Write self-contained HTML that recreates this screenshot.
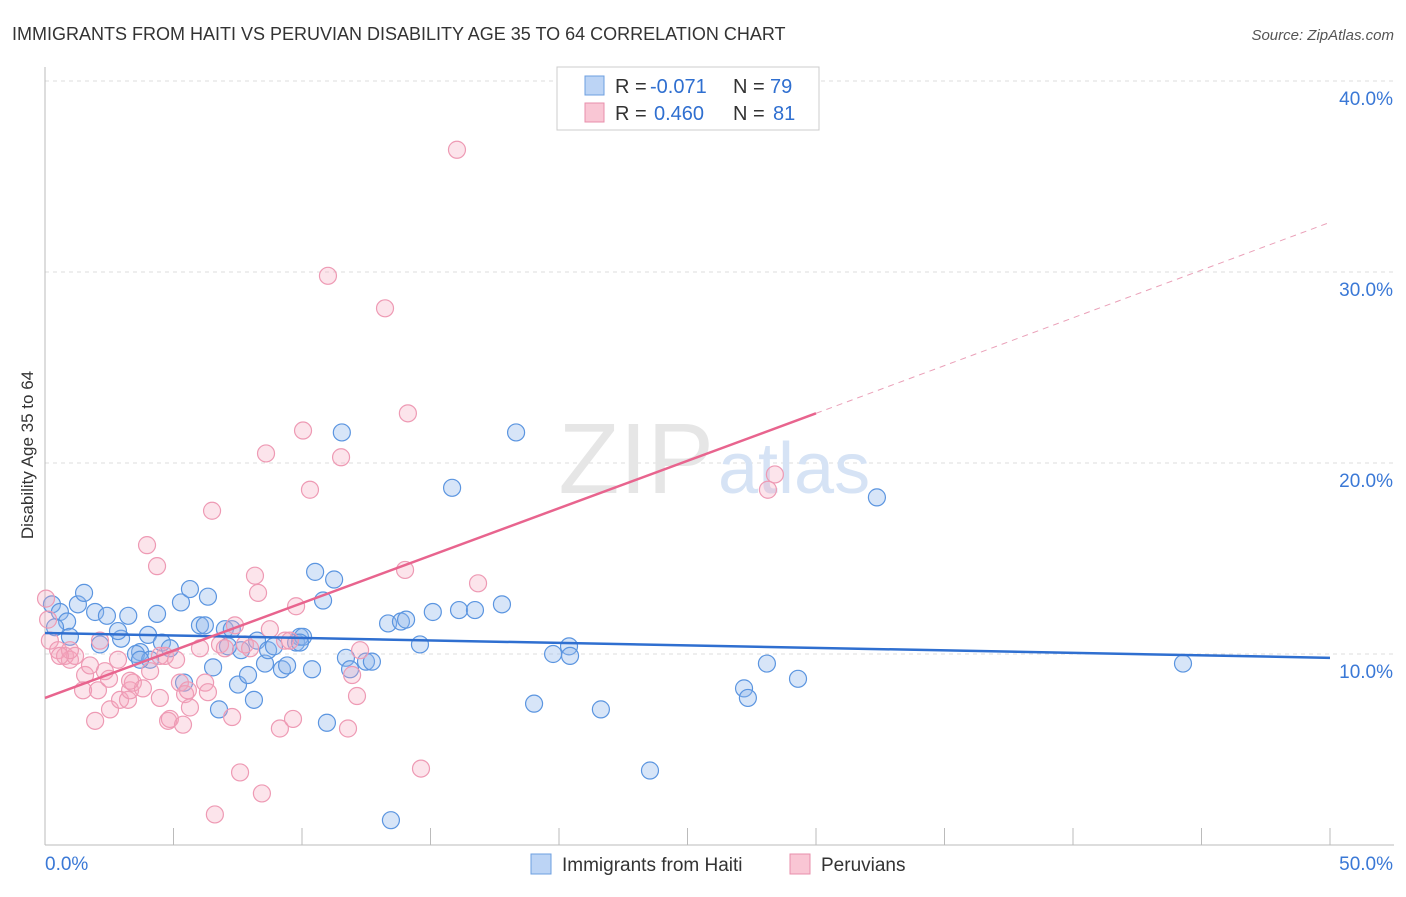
<!DOCTYPE html>
<html><head><meta charset="utf-8"><style>
body{margin:0;background:#fff;font-family:"Liberation Sans",sans-serif;}
svg text{font-family:"Liberation Sans",sans-serif;}
</style></head><body>
<svg id="c" width="1406" height="892" viewBox="0 0 1406 892">
<text x="12" y="40" font-size="18" fill="#333">IMMIGRANTS FROM HAITI VS PERUVIAN DISABILITY AGE 35 TO 64 CORRELATION CHART</text>
<text x="1394" y="40" font-size="15" fill="#555" font-style="italic" text-anchor="end">Source: ZipAtlas.com</text>
<text x="33" y="455" font-size="17" fill="#333" text-anchor="middle" transform="rotate(-90 33 455)">Disability Age 35 to 64</text>
<g id="grid"></g>
<text x="714" y="493" font-size="100" fill="#e6e6e6" text-anchor="end" font-family="Liberation Serif">ZIP</text>
<text x="718" y="493" font-size="72" fill="#d6e3f5">atlas</text>
<g id="pts"></g>
<g id="lines"></g>
<g>
<rect x="557" y="67" width="262" height="63" fill="#fff" stroke="#ccc"/>
<rect x="585" y="76" width="19" height="19" fill="#bcd4f5" stroke="#6d9fe0"/>
<rect x="585" y="103" width="19" height="19" fill="#f9c6d4" stroke="#e88fab"/>
<text x="615" y="93" font-size="20" fill="#333">R =</text>
<text x="650" y="93" font-size="20" fill="#2f6fd0">-0.071</text>
<text x="733" y="93" font-size="20" fill="#333">N =</text>
<text x="770" y="93" font-size="20" fill="#2f6fd0">79</text>
<text x="615" y="120" font-size="20" fill="#333">R =</text>
<text x="654" y="120" font-size="20" fill="#2f6fd0">0.460</text>
<text x="733" y="120" font-size="20" fill="#333">N =</text>
<text x="773" y="120" font-size="20" fill="#2f6fd0">81</text>
</g>
<g>
<rect x="531" y="854" width="20" height="20" fill="#bcd4f5" stroke="#6d9fe0"/>
<text x="562" y="871" font-size="19" fill="#333">Immigrants from Haiti</text>
<rect x="790" y="854" width="20" height="20" fill="#f9c6d4" stroke="#e88fab"/>
<text x="821" y="871" font-size="19" fill="#333">Peruvians</text>
</g>
</svg>
<script>
const xTicks=[0,5,10,15,20,25,30,35,40,45,50];
const yTicks=[10,20,30,40];
const blueX=[0.27,0.58,0.86,0.39,1.28,1.52,0.97,1.95,2.41,2.96,2.84,3.24,3.70,3.54,4.01,4.09,4.36,4.55,4.86,5.29,5.64,6.03,6.22,6.34,6.54,6.77,7.00,7.27,7.51,7.63,7.90,8.13,8.25,8.56,8.68,8.91,9.22,9.42,9.77,9.92,10.04,10.39,10.51,10.82,10.97,11.25,11.55,11.71,11.87,12.49,12.72,13.35,13.85,14.05,14.59,15.09,15.84,16.11,16.73,17.78,18.33,19.03,19.77,20.39,20.43,21.63,23.54,27.20,27.35,28.09,29.30,32.37,44.28,13.46,9.92,5.41,2.14,3.70,7.12];
const blueY=[12.6,12.2,11.7,11.4,12.6,13.2,10.9,12.2,12.0,10.8,11.2,12.0,10.1,10.0,11.0,9.7,12.1,10.6,10.3,12.7,13.4,11.5,11.5,13.0,9.3,7.1,11.3,11.3,8.4,10.2,8.9,7.6,10.7,9.5,10.2,10.4,9.2,9.4,10.6,10.9,10.9,9.2,14.3,12.8,6.4,13.9,21.6,9.8,9.2,9.6,9.6,11.6,11.7,11.8,10.5,12.2,18.7,12.3,12.3,12.6,21.6,7.4,10.0,10.4,9.9,7.1,3.9,8.2,7.7,9.5,8.7,18.2,9.5,1.3,10.6,8.5,10.5,9.7,10.4];
const pinkPts=[[0.04,12.9],[0.12,11.8],[0.19,10.7],[0.51,10.2],[0.78,9.9],[0.97,9.7],[1.17,9.9],[1.56,8.9],[1.75,9.4],[2.06,8.1],[2.33,9.1],[2.53,7.1],[2.84,9.7],[2.92,7.6],[3.23,7.6],[3.31,8.1],[3.42,8.5],[3.81,8.2],[3.97,15.7],[4.36,14.6],[4.47,7.7],[4.47,9.9],[4.67,9.9],[4.79,6.5],[4.86,6.6],[5.10,9.7],[5.25,8.5],[5.45,7.9],[5.56,8.1],[5.64,7.2],[6.03,10.3],[6.23,8.5],[6.34,8.0],[6.50,17.5],[6.61,1.6],[6.81,10.5],[7.00,10.3],[7.28,6.7],[7.39,11.5],[7.59,3.8],[7.78,10.5],[7.98,10.3],[8.17,14.1],[8.29,13.2],[8.44,2.7],[8.60,20.5],[8.75,11.3],[9.14,6.1],[9.34,10.7],[9.53,10.7],[9.65,6.6],[9.77,12.5],[10.04,21.7],[10.31,18.6],[11.01,29.8],[11.52,20.3],[11.79,6.1],[11.95,8.9],[12.14,7.8],[12.26,10.2],[13.23,28.1],[14.01,14.4],[14.12,22.6],[14.63,4.0],[16.03,36.4],[16.85,13.7],[28.13,18.6],[28.40,19.4],[2.14,10.7],[0.97,10.2],[0.58,9.9],[1.48,8.1],[1.95,6.5],[2.49,8.7],[4.09,9.1],[5.37,6.3],[3.31,8.6]];
const blueLine=[[0,11.1],[50,9.8]];
const pinkLine=[[0,7.7],[30,22.6],[50,32.6]];
const X=v=>45+v*25.7, Y=v=>845-v*19.1;
const NS='http://www.w3.org/2000/svg';
function mk(t,a,p){const e=document.createElementNS(NS,t);for(const k in a)e.setAttribute(k,a[k]);p.appendChild(e);return e;}
const grid=document.getElementById('grid');
yTicks.forEach(t=>{
 const l=mk('line',{x1:45,x2:1394,y1:Y(t),y2:Y(t),stroke:'#ddd','stroke-dasharray':'4,4'},grid);
 
 
 const tx=mk('text',{x:1393,y:Y(t)+24,'font-size':19,fill:'#3a78d6','text-anchor':'end'},grid);
 tx.textContent=t+'.0%';
 
 
});
mk('line',{x1:45,x2:45,y1:67,y2:845,stroke:'#bbb'},grid);
mk('line',{x1:45,x2:1394,y1:845,y2:845,stroke:'#bbb'},grid);
xTicks.forEach(t=>{
 const l=mk('line',{x1:X(t),x2:X(t),y1:828,y2:845,stroke:'#bbb'},grid);
 
 
});
[[0,'0.0%',45,'start'],[50,'50.0%',1393,'end']].forEach(d=>{
 const tx=mk('text',{x:d[2],y:870,'font-size':19,fill:'#3a78d6','text-anchor':d[3]},grid);
 tx.textContent=d[1];
 
 
});
const pts=document.getElementById('pts');
blueX.forEach((v,i)=>{
 const c=mk('circle',{cx:X(v),cy:Y(blueY[i]),r:8.5,fill:'rgba(140,180,235,0.35)',stroke:'#5b95e0','stroke-width':1.2},pts);
 
 
});
pinkPts.forEach(p=>{
 const c=mk('circle',{cx:X(p[0]),cy:Y(p[1]),r:8.5,fill:'rgba(245,165,190,0.3)',stroke:'#ee9ab4','stroke-width':1.2},pts);
 
 
});
const lines=document.getElementById('lines');
let l=mk('line',{x1:X(blueLine[0][0]),y1:Y(blueLine[0][1]),x2:X(blueLine[1][0]),y2:Y(blueLine[1][1]),stroke:'#2f6fd0','stroke-width':2.5},lines);


l=mk('line',{x1:X(pinkLine[0][0]),y1:Y(pinkLine[0][1]),x2:X(pinkLine[1][0]),y2:Y(pinkLine[1][1]),stroke:'#e8648e','stroke-width':2.5},lines);


l=mk('line',{x1:X(pinkLine[1][0]),y1:Y(pinkLine[1][1]),x2:X(pinkLine[2][0]),y2:Y(pinkLine[2][1]),stroke:'#eaa0b8','stroke-width':1,'stroke-dasharray':'6,5'},lines);


</script>
</body></html>
